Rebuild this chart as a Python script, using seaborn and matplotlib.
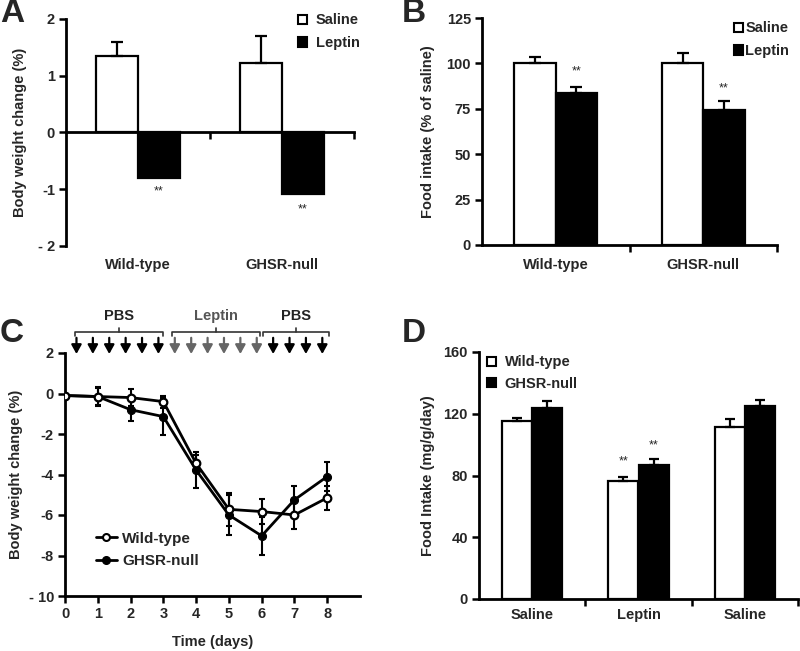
import matplotlib
matplotlib.use("Agg")
import matplotlib.pyplot as plt
import seaborn as sns
import pandas as pd
import numpy as np
from matplotlib.patches import Patch
from matplotlib.lines import Line2D
import matplotlib.transforms as mtransforms

sns.set_theme(style="white")
plt.rcParams['font.family'] = ['Liberation Sans', 'DejaVu Sans']
plt.rcParams['font.weight'] = 'bold'

# ---------------- data ----------------
# Panel A
a_groups = ["Wild-type", "GHSR-null"]
a_treat = ["Saline", "Leptin"]
a_saline = [1.35, 1.22]
a_saline_err = [0.25, 0.48]
a_leptin = [-0.80, -1.08]
a_star_y = [-1.04, -1.36]

# Panel B
b_groups = ["Wild-type", "GHSR-null"]
b_saline = [100.0, 100.0]
b_saline_err = [3.5, 5.5]
b_leptin = [83.5, 74.5]
b_leptin_err = [3.5, 5.0]
b_star_y = [95.4, 86.3]

# Panel C
c_days = [0, 1, 2, 3, 4, 5, 6, 7, 8]
c_wt = [-0.1, -0.15, -0.2, -0.4, -3.45, -5.72, -5.83, -6.0, -5.15]
c_wt_err = [0.0, 0.4, 0.4, 0.3, 0.4, 0.8, 0.6, 0.7, 0.6]
c_ko = [-0.1, -0.15, -0.8, -1.14, -3.78, -6.0, -7.03, -5.25, -4.1]
c_ko_err = [0.0, 0.45, 0.55, 0.9, 0.9, 1.0, 0.95, 0.7, 0.7]
c_pbs1_arrows = [0.35, 0.85, 1.35, 1.85, 2.35, 2.85]
c_lep_arrows = [3.35, 3.85, 4.35, 4.85, 5.35, 5.85]
c_pbs2_arrows = [6.35, 6.85, 7.35, 7.85]
c_brackets = [("PBS", 0.3, 3.0), ("Leptin", 3.27, 5.95), ("PBS", 6.05, 8.05)]

# Panel D
d_groups = ["Saline", "Leptin", "Saline "]
d_labels = ["Saline", "Leptin", "Saline"]
d_wt = [115.2, 76.7, 111.3]
d_wt_err = [2.2, 2.5, 5.4]
d_ko = [124.0, 86.6, 124.9]
d_ko_err = [4.0, 4.4, 4.3]
d_star_y = [88.9, 99.7]

W, H = 800, 651
fig = plt.figure(figsize=(8, 6.51), dpi=100)
fig.patch.set_facecolor("white")


def add_ax(l, r, t, b):
    return fig.add_axes([l / W, 1 - b / H, (r - l) / W, (b - t) / H])


TICK_FS = 10.5
LAB_FS = 10.5
SPINE_LW = 2.0


def style_ax(ax):
    for s in ["top", "right"]:
        ax.spines[s].set_visible(False)
    for s in ["left", "bottom"]:
        ax.spines[s].set_color("black")
        ax.spines[s].set_linewidth(SPINE_LW)
    ax.tick_params(axis="both", direction="out", length=5, width=1.8,
                   color="black", labelsize=TICK_FS, pad=3,
                   left=True, bottom=True)
    for lab in ax.get_yticklabels():
        lab.set_fontweight("bold")
    ax.set_facecolor("white")
    ax.grid(False)


def bar_panel(ax, groups, s1, s2, names, width):
    df = pd.DataFrame({
        "group": list(groups) * 2,
        "treat": [names[0]] * len(groups) + [names[1]] * len(groups),
        "value": list(s1) + list(s2),
    })
    sns.barplot(data=df, x="group", y="value", hue="treat", order=list(groups),
                hue_order=names, palette=["white", "black"], width=width,
                edgecolor="black", linewidth=1.6, errorbar=None, legend=False,
                saturation=1, ax=ax)
    centers = []
    for cont in ax.containers:
        centers.append([p.get_x() + p.get_width() / 2 for p in cont.patches])
    return centers


def cat_labels(ax, labels, yfrac):
    trans = mtransforms.blended_transform_factory(ax.transData, ax.transAxes)
    for i, t in enumerate(labels):
        ax.text(i, yfrac, t, transform=trans, ha="center", va="center",
                fontsize=LAB_FS, fontweight="bold")


# ---------------- Panel A ----------------
axA = add_ax(66, 354, 19, 246)
cA = bar_panel(axA, a_groups, a_saline, a_leptin, a_treat, 0.58)
axA.errorbar(cA[0], a_saline, yerr=[np.zeros(2), a_saline_err], fmt="none",
             ecolor="black", elinewidth=1.6, capsize=4, capthick=1.6, zorder=1)
style_ax(axA)
axA.set_ylim(-2, 2)
axA.set_xlim(-0.5, 1.5)
axA.spines["bottom"].set_position(("data", 0))
axA.set_yticks([2, 1, 0, -1, -2])
axA.set_yticklabels(["2", "1", "0", "-1", "- 2"], fontweight="bold")
axA.set_xticks([0.5, 1.5])
axA.set_xticklabels(["", ""])
axA.set_xlabel("")
axA.set_ylabel("Body weight change (%)", fontsize=LAB_FS, fontweight="bold", labelpad=8)
cat_labels(axA, a_groups, -0.084)
for x, y in zip(cA[1], a_star_y):
    axA.text(x, y, "**", ha="center", va="center", fontsize=9, fontweight="normal")
hA = [Patch(facecolor="white", edgecolor="black", linewidth=1.5),
      Patch(facecolor="black", edgecolor="black", linewidth=1.5)]
axA.legend(hA, a_treat, loc="upper left", bbox_to_anchor=(291 / W, 1 - 6 / H),
           bbox_transform=fig.transFigure, frameon=False, handlelength=0.6,
           handleheight=0.6, handletextpad=0.6, labelspacing=0.6, borderpad=0,
           prop={"weight": "bold", "size": 10.5})

# ---------------- Panel B ----------------
axB = add_ax(482, 777, 18, 245)
cB = bar_panel(axB, b_groups, b_saline, b_leptin, a_treat, 0.56)
axB.errorbar(cB[0], b_saline, yerr=[np.zeros(2), b_saline_err], fmt="none",
             ecolor="black", elinewidth=1.6, capsize=4, capthick=1.6, zorder=1)
axB.errorbar(cB[1], b_leptin, yerr=[np.zeros(2), b_leptin_err], fmt="none",
             ecolor="black", elinewidth=1.6, capsize=4, capthick=1.6, zorder=1)
style_ax(axB)
axB.set_ylim(0, 125)
axB.set_xlim(-0.5, 1.5)
axB.set_yticks([0, 25, 50, 75, 100, 125])
axB.set_yticklabels(["0", "25", "50", "75", "100", "125"], fontweight="bold")
axB.set_xticks([0.5, 1.5])
axB.set_xticklabels(["", ""])
axB.set_xlabel("")
axB.set_ylabel("Food intake (% of saline)", fontsize=LAB_FS, fontweight="bold", labelpad=8)
cat_labels(axB, b_groups, -0.088)
for x, y in zip(cB[1], b_star_y):
    axB.text(x, y, "**", ha="center", va="center", fontsize=9, fontweight="normal")
axB.legend(hA, a_treat, loc="upper left", bbox_to_anchor=(727 / W, 1 - 14 / H),
           bbox_transform=fig.transFigure, frameon=False, handlelength=0.6,
           handleheight=0.6, handletextpad=0.15, labelspacing=0.6, borderpad=0,
           prop={"weight": "bold", "size": 10.5})

# ---------------- Panel C ----------------
axC = add_ax(65, 360, 353, 596)
dfc = pd.DataFrame({"day": c_days * 2,
                    "change": c_wt + c_ko,
                    "geno": ["Wild-type"] * 9 + ["GHSR-null"] * 9})
axC.errorbar(c_days, c_ko, yerr=c_ko_err, fmt="none", ecolor="black",
             elinewidth=1.5, capsize=2.5, capthick=1.5, zorder=2)
axC.errorbar(c_days, c_wt, yerr=c_wt_err, fmt="none", ecolor="black",
             elinewidth=1.5, capsize=2.5, capthick=1.5, zorder=2)
sns.lineplot(data=dfc[dfc.geno == "GHSR-null"], x="day", y="change", color="black",
             marker="o", markersize=5.8, markerfacecolor="black", markeredgecolor="black",
             linewidth=2.0, ax=axC, legend=False, zorder=3)
sns.lineplot(data=dfc[dfc.geno == "Wild-type"], x="day", y="change", color="black",
             marker="o", markersize=5.5, markerfacecolor="white", markeredgecolor="black",
             markeredgewidth=1.6, linewidth=2.0, ax=axC, legend=False, zorder=4)
style_ax(axC)
axC.set_xlim(0, 9)
axC.set_ylim(-10, 2)
axC.set_xticks(c_days)
axC.set_xticklabels([str(d) for d in c_days], fontweight="bold")
axC.set_yticks([2, 0, -2, -4, -6, -8, -10])
axC.set_yticklabels(["2", "0", "-2", "-4", "-6", "-8", "- 10"], fontweight="bold")
axC.set_xlabel("Time (days)", fontsize=LAB_FS, fontweight="bold", labelpad=10)
axC.set_ylabel("Body weight change (%)", fontsize=LAB_FS, fontweight="bold", labelpad=4)
for xs, col in [(c_pbs1_arrows, "black"), (c_lep_arrows, "#666666"), (c_pbs2_arrows, "black")]:
    for x in xs:
        axC.annotate("", xy=(x, 1.95), xytext=(x, 2.75), xycoords="data",
                     arrowprops=dict(arrowstyle="-|>,head_width=0.25,head_length=0.45",
                                     color=col, lw=1.6, shrinkA=0, shrinkB=0),
                     annotation_clip=False)
for lab, x0, x1 in c_brackets:
    tcol = "#555555" if lab == "Leptin" else "#222222"
    axC.plot([x0, x0, x1, x1], [2.85, 3.05, 3.05, 2.85], color="#333333", lw=1.2,
             clip_on=False)
    xm = (x0 + x1) / 2
    axC.plot([xm, xm], [3.05, 3.25], color="#333333", lw=1.2, clip_on=False)
    axC.text(xm, 3.85, lab, ha="center", va="center", fontsize=10.5,
             fontweight="bold", color=tcol, clip_on=False)
hC = [Line2D([], [], color="black", marker="o", markerfacecolor="white",
             markeredgecolor="black", markeredgewidth=1.5, markersize=5, lw=2),
      Line2D([], [], color="black", marker="o", markerfacecolor="black",
             markersize=5.5, lw=2)]
axC.legend(hC, ["Wild-type", "GHSR-null"], loc="upper left",
           bbox_to_anchor=(88 / W, 1 - 524 / H), bbox_transform=fig.transFigure,
           frameon=False, handlelength=1.4, handletextpad=0.35, labelspacing=0.55,
           borderpad=0, prop={"weight": "bold", "size": 11})

# ---------------- Panel D ----------------
axD = add_ax(479, 798, 352, 599)
cD = bar_panel(axD, d_groups, d_wt, d_ko, ["Wild-type", "GHSR-null"], 0.57)
axD.errorbar(cD[0], d_wt, yerr=[np.zeros(3), d_wt_err], fmt="none",
             ecolor="black", elinewidth=1.6, capsize=3.5, capthick=1.6, zorder=1)
axD.errorbar(cD[1], d_ko, yerr=[np.zeros(3), d_ko_err], fmt="none",
             ecolor="black", elinewidth=1.6, capsize=3.5, capthick=1.6, zorder=1)
style_ax(axD)
axD.set_ylim(0, 160)
axD.set_xlim(-0.5, 2.5)
axD.set_yticks([0, 40, 80, 120, 160])
axD.set_yticklabels(["0", "40", "80", "120", "160"], fontweight="bold")
axD.set_xticks([0.5, 1.5, 2.5])
axD.set_xticklabels(["", "", ""])
axD.set_xlabel("")
axD.set_ylabel("Food Intake (mg/g/day)", fontsize=LAB_FS, fontweight="bold", labelpad=6)
cat_labels(axD, d_labels, -0.065)
axD.text(cD[0][1], d_star_y[0], "**", ha="center", va="center", fontsize=9, fontweight="normal")
axD.text(cD[1][1], d_star_y[1], "**", ha="center", va="center", fontsize=9, fontweight="normal")
axD.legend(hA, ["Wild-type", "GHSR-null"], loc="upper left",
           bbox_to_anchor=(480 / W, 1 - 348 / H), bbox_transform=fig.transFigure,
           frameon=False, handlelength=0.6, handleheight=0.6, handletextpad=0.6,
           labelspacing=0.5, borderpad=0, prop={"weight": "bold", "size": 10.5})

# ---------------- Panel letters ----------------
for lab, x, y in [("A", 0, 14), ("B", 402, 14), ("C", 0, 334), ("D", 402, 334)]:
    fig.text(x / W, 1 - y / H, lab, ha="left", va="center", fontsize=24,
             fontweight="bold")

fig.savefig("out.png", dpi=100, facecolor="white")
